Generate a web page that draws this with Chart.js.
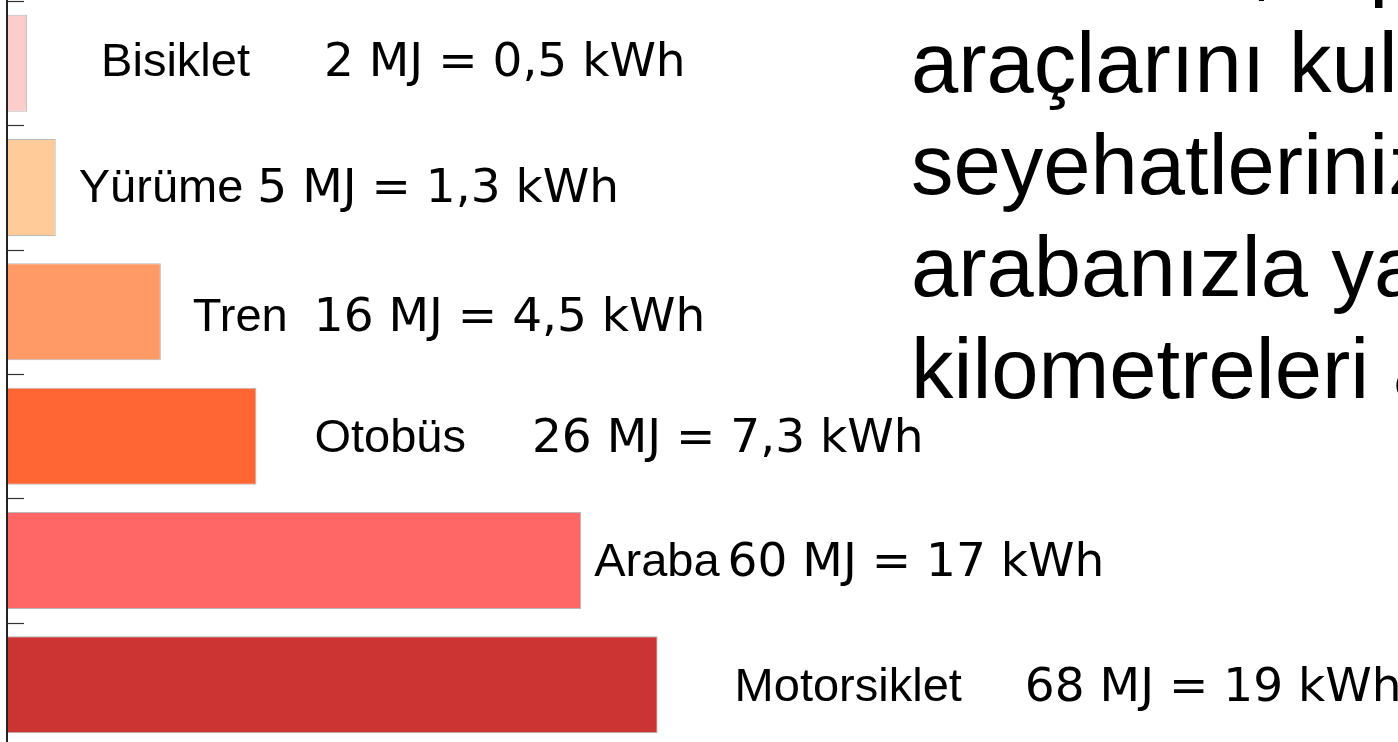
<!DOCTYPE html>
<html lang="tr">
<head>
<meta charset="UTF-8" />
<title>Ulaşım araçlarının enerji tüketimi</title>
<script src="https://cdn.jsdelivr.net/npm/chart.js"></script>
<style>
  html, body { margin: 0; padding: 0; background: #fff; overflow: hidden; }
  #wrap { position: absolute; left: 0; top: 0; width: 1398px; height: 747px; }
  #note {
    position: absolute; left: 911px; top: -90.5px;
    font-family: "Liberation Sans", Arial, sans-serif;
    font-size: 85px; line-height: 102px; color: #000; white-space: nowrap;
  }
</style>
</head>
<body>
<div id="wrap"><canvas id="chart" width="1398" height="747"></canvas></div>
<div id="note">Yürümek, toplu taşıma<br>araçlarını kullanmak<br>seyehatlerinizi<br>arabanızla yaptığınız<br>kilometreleri azaltır</div>

<script>
const categories = ["Bisiklet", "Yürüme", "Tren", "Otobüs", "Araba", "Motorsiklet"];
const energyMJ = [2, 5, 16, 26, 60, 68];
const energyKWh = ["0,5", "1,3", "4,5", "7,3", "17", "19"];
const barColors = ["#ffcccc", "#ffcc99", "#ff9966", "#ff6633", "#ff6666", "#cc3333"];

// label layout: gap after bar end, gap between name and value,
// baseline shift from bar centre
const nameGap = [74, 23, 32, 58, 13, 77];
const valueGap = [74, 14, 26, 66, 8, 63];
const baseDy = [13, 14, 19, 16, 15, 16];

const axisLine = {
  id: "axisLine",
  afterDatasetsDraw(chart) {
    const { ctx, chartArea } = chart;
    const y = chart.scales.y;
    const band = y.getPixelForValue(1) - y.getPixelForValue(0);
    const x0 = chartArea.left - 1;
    ctx.save();
    ctx.strokeStyle = "#222";
    ctx.lineWidth = 2;
    ctx.beginPath();
    ctx.moveTo(x0, 0);
    ctx.lineTo(x0, chart.height);
    ctx.stroke();
    ctx.lineWidth = 1.2;
    ctx.strokeStyle = "#333";
    for (let i = 0; i <= categories.length; i++) {
      const ty = Math.round(y.getPixelForValue(i) - band / 2) + 0.5;
      ctx.beginPath();
      ctx.moveTo(x0, ty);
      ctx.lineTo(x0 + 17, ty);
      ctx.stroke();
    }
    ctx.restore();
  }
};

const barLabels = {
  id: "barLabels",
  afterDatasetsDraw(chart) {
    const { ctx } = chart;
    const bars = chart.getDatasetMeta(0).data;
    ctx.save();
    ctx.fillStyle = "#000";
    ctx.textAlign = "left";
    ctx.textBaseline = "alphabetic";
    bars.forEach((bar, i) => {
      const by = bar.y + baseDy[i];
      const nx = bar.x + nameGap[i];
      ctx.font = '47px "Liberation Sans", Arial, sans-serif';
      ctx.fillText(categories[i], nx, by);
      const vx = nx + ctx.measureText(categories[i]).width + valueGap[i];
      ctx.font = '47px "DejaVu Sans", Verdana, sans-serif';
      ctx.fillText(energyMJ[i] + " MJ = " + energyKWh[i] + " kWh", vx, by);
    });
    ctx.restore();
  }
};

new Chart(document.getElementById("chart"), {
  type: "bar",
  data: {
    labels: categories,
    datasets: [{
      data: energyMJ,
      backgroundColor: barColors,
      borderColor: "rgba(130,130,130,0.55)",
      borderWidth: 1,
      categoryPercentage: 1,
      barPercentage: 0.78
    }]
  },
  options: {
    indexAxis: "y",
    responsive: false,
    animation: false,
    layout: { padding: { left: 8, top: 1, right: 0, bottom: 0 } },
    scales: {
      x: { display: false, min: 0, max: 145.5 },
      y: { display: false }
    },
    plugins: { legend: { display: false }, tooltip: { enabled: false } }
  },
  plugins: [axisLine, barLabels]
});
</script>
</body>
</html>
